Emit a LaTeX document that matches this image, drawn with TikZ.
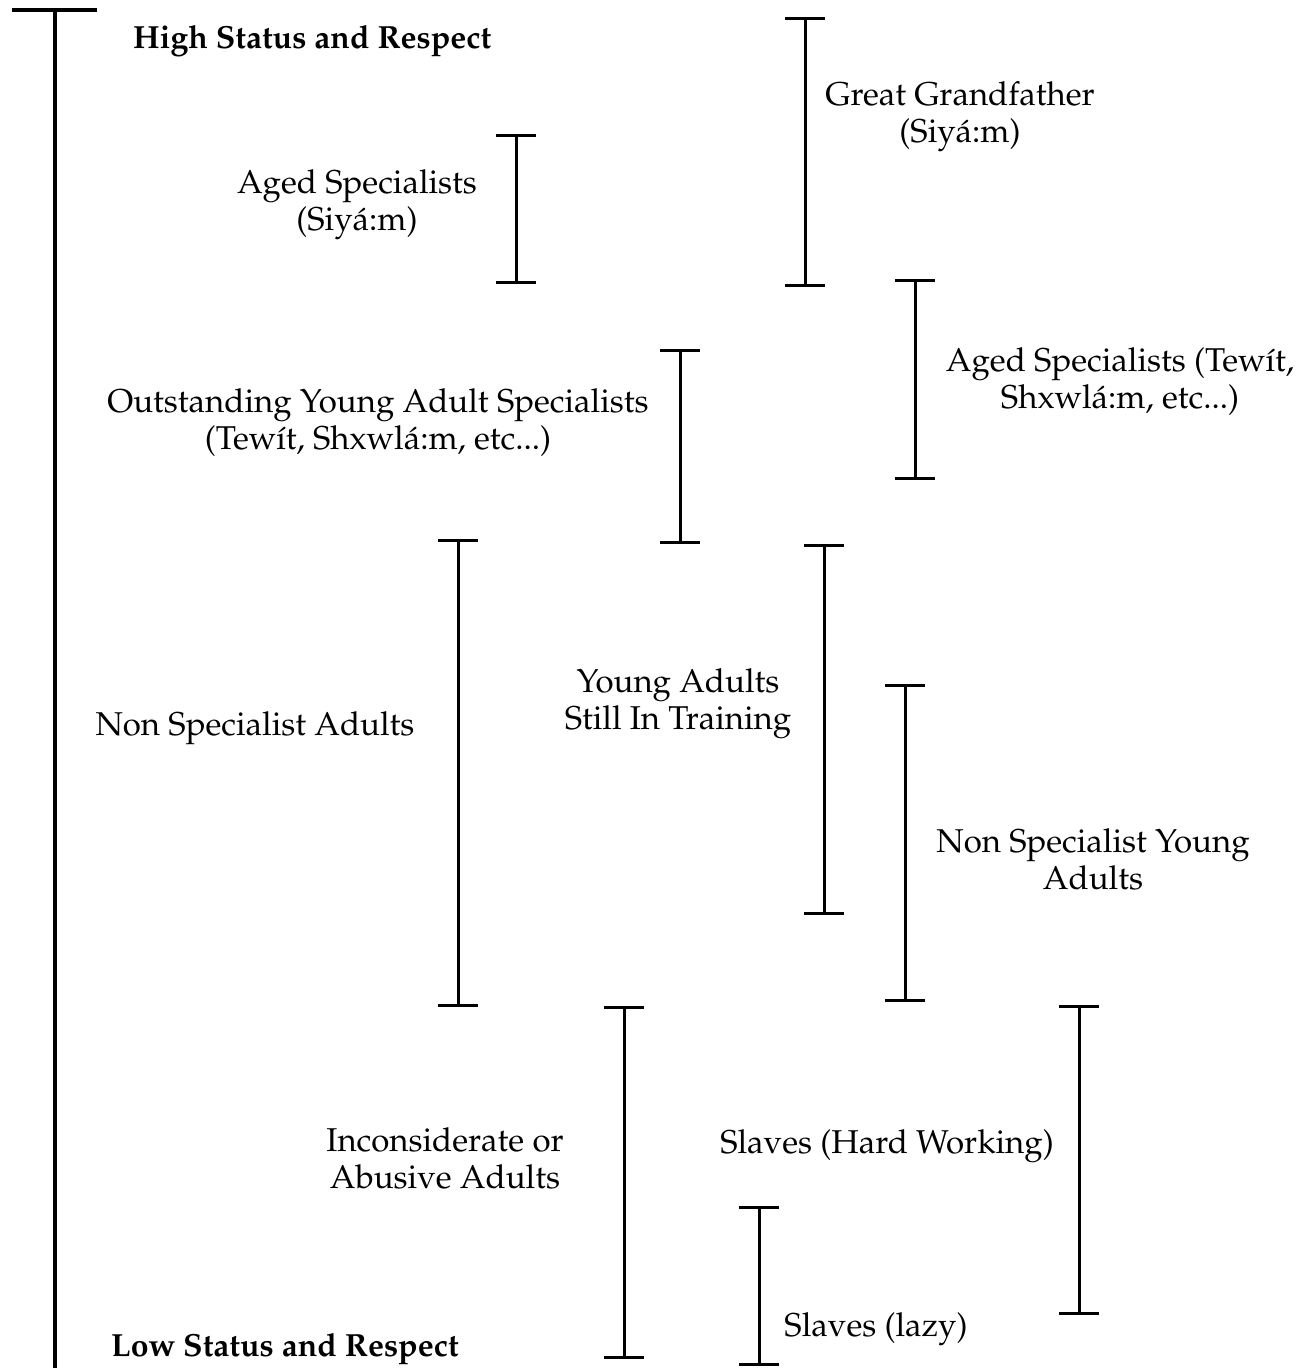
\documentclass[tikz,border=0pt]{standalone}
\usepackage[T1]{fontenc}
\usepackage{mathpazo}
\begin{document}
\begin{tikzpicture}[x=1pt,y=-1pt,
  lbl/.style={inner sep=0pt,align=center,font=\fontsize{33}{37}\selectfont},
  bold/.style={lbl,font=\fontsize{32}{37}\selectfont\bfseries},
  bar/.style={line width=3pt,line cap=butt}]
\useasboundingbox[fill=white] (0,0) rectangle (1308,1368);
\newcommand\ibar[4]{%
  \coordinate (#1t) at (#2,#3); \coordinate (#1b) at (#2,#4);
  \draw[bar] (#1t) -- (#1b);
  \draw[bar] ([xshift=-20pt]#1t) -- ([xshift=20pt]#1t);
  \draw[bar] ([xshift=-20pt]#1b) -- ([xshift=20pt]#1b);}
% main scale
\coordinate (mt) at (55,10); \coordinate (mb) at (55,1368);
\draw[bar,line width=3.4pt] (mt) -- (mb);
\draw[bar,line width=3.4pt] (12,10) -- (97,10);
% bars
\ibar{a}{516}{135}{282}
\ibar{b}{805}{18}{285}
\ibar{c}{915}{280}{478}
\ibar{d}{680}{350}{542}
\ibar{e}{458}{540}{1005}
\ibar{f}{824}{545}{913}
\ibar{g}{905}{685}{1000}
\ibar{h}{624}{1007}{1357}
\ibar{i}{1079}{1006}{1313}
\ibar{j}{759}{1207}{1364}
% labels
\node[bold,anchor=west] (high) at (133,41) {High Status and Respect};
\node[bold,anchor=west] (low) at (111,1349) {Low Status and Respect};
\node[lbl] (agedS) at (357,205) {Aged Specialists\\(Siy\'a:m)};
\node[lbl] (great) at (960,117) {Great Grandfather\\(Siy\'a:m)};
\node[lbl] (agedT) at (1120,382) {Aged Specialists (Tew\'{\i}t,\\Shxwl\'a:m, etc...)};
\node[lbl] (outst) at (378,423) {Outstanding Young Adult Specialists\\(Tew\'{\i}t, Shxwl\'a:m, etc...)};
\node[lbl] (nsa) at (255,728) {Non Specialist Adults};
\node[lbl] (yat) at (678,704) {Young Adults\\Still In Training};
\node[lbl] (nsy) at (1093,859) {Non Specialist Young\\Adults};
\node[lbl] (inc) at (445,1158) {Inconsiderate or\\Abusive Adults};
\node[lbl] (shw) at (887,1146) {Slaves (Hard Working)};
\node[lbl] (sl) at (876,1329) {Slaves (lazy)};
\end{tikzpicture}
\end{document}
